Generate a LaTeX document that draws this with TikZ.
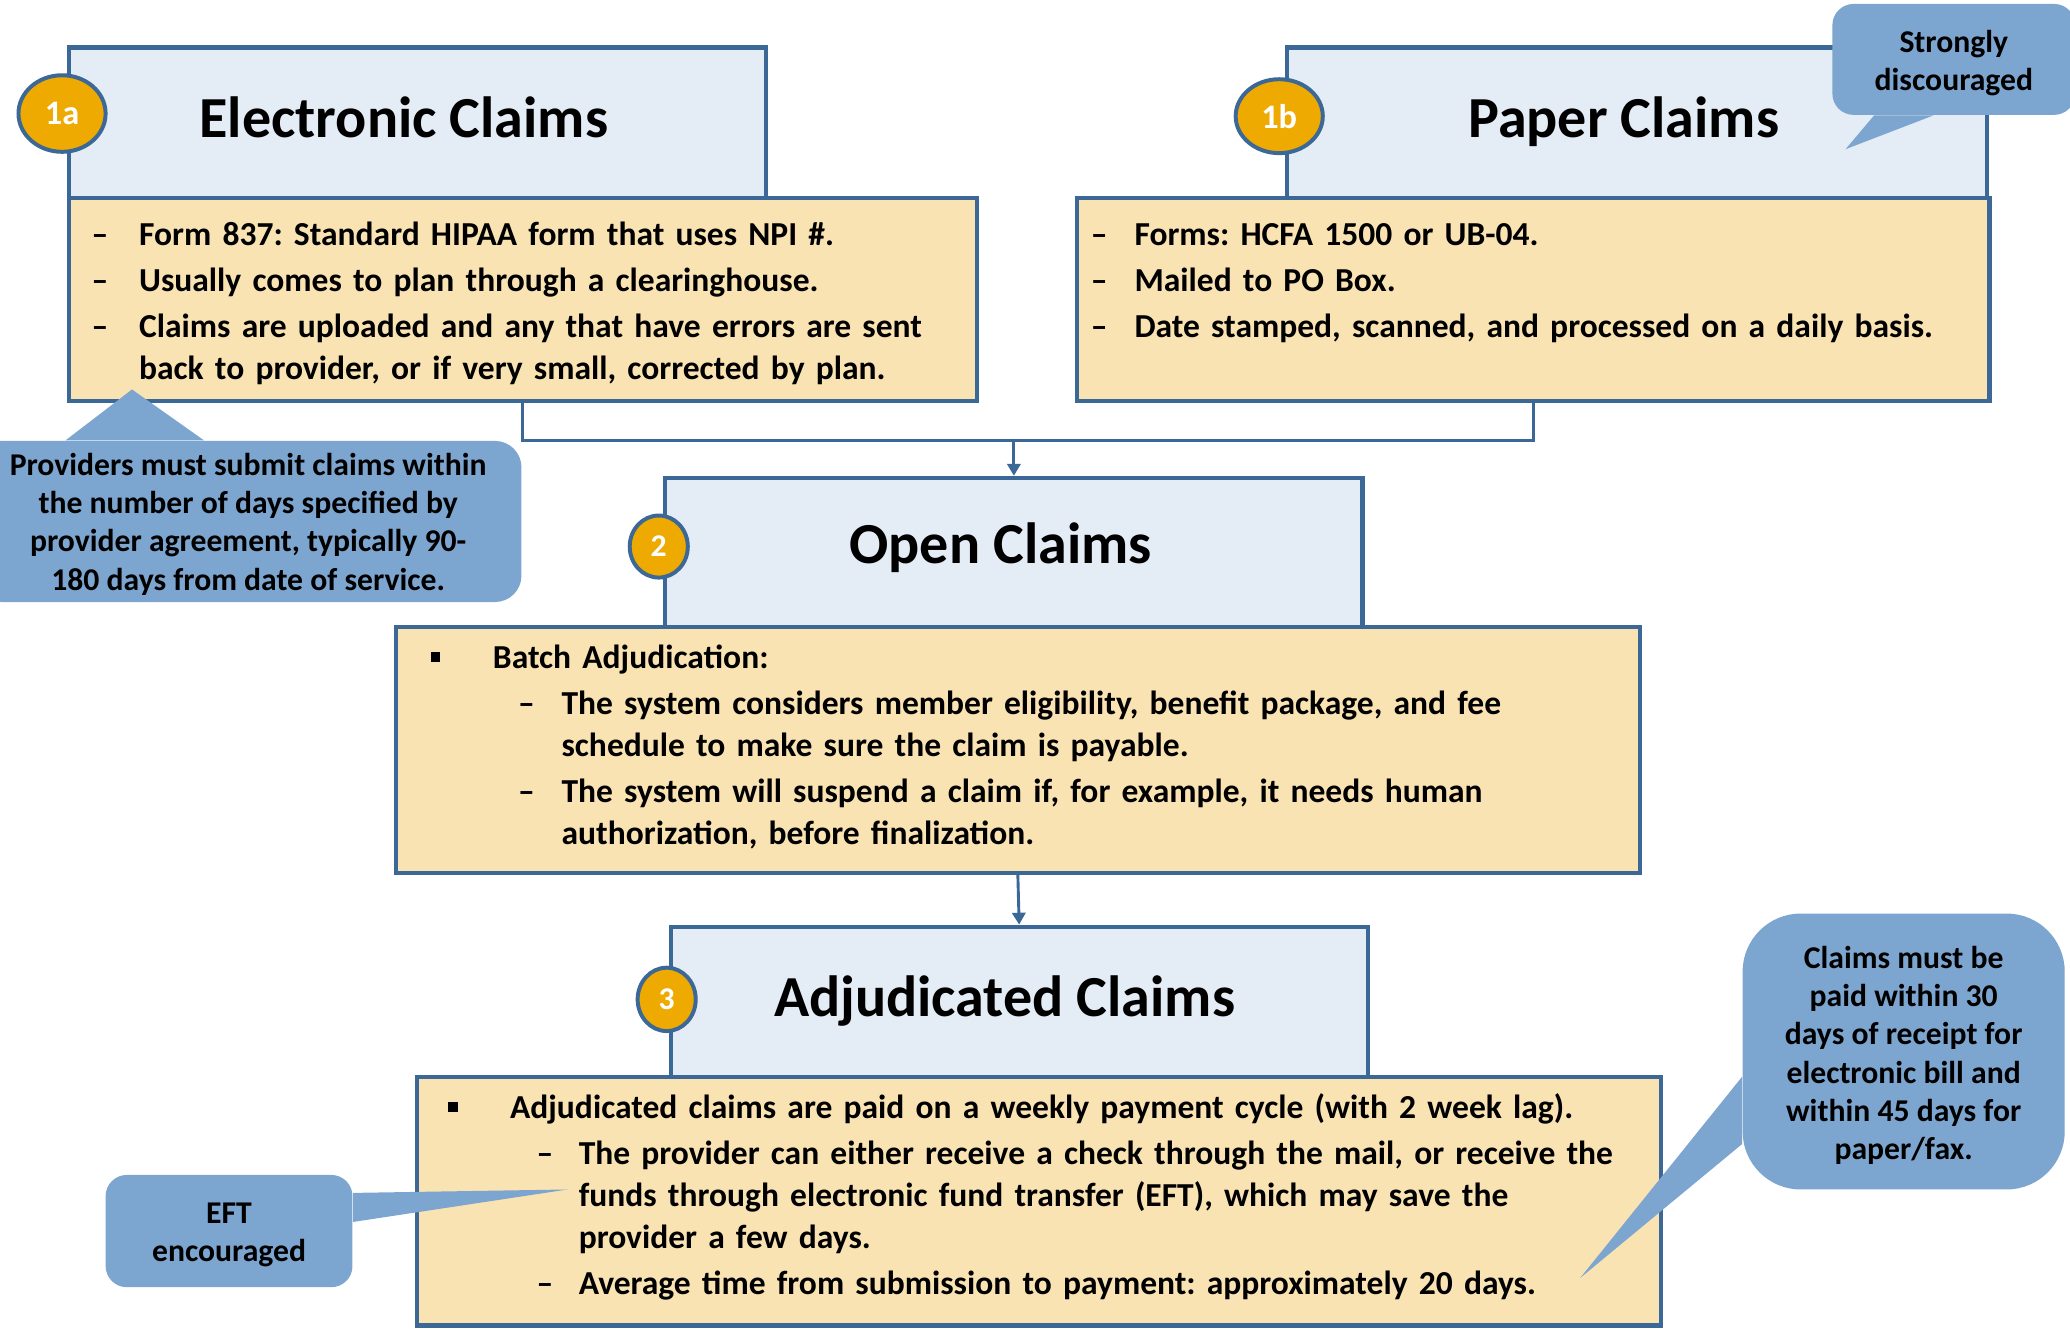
\documentclass[tikz,border=0pt]{standalone}
\usepackage{fontspec}
\setmainfont{Carlito}
\usetikzlibrary{arrows.meta,positioning,shapes.geometric,fit,calc}
\definecolor{boxline}{RGB}{59,104,150}
\definecolor{headfill}{RGB}{228,236,245}
\definecolor{bodyfill}{RGB}{250,227,178}
\definecolor{badgefill}{RGB}{238,170,0}
\definecolor{notefill}{RGB}{124,165,207}

% list used inside the yellow boxes: #1 = left margin, #2 = label width, #3 = label, #4 = space above
\newenvironment{boxitems}[4]{%
  \begin{list}{#3}{\setlength{\leftmargin}{#1}\setlength{\labelwidth}{#2}%
    \setlength{\labelsep}{0pt}\setlength{\topsep}{#4}\setlength{\partopsep}{0pt}%
    \setlength{\parsep}{0pt}\setlength{\itemsep}{1.7pt}\setlength{\itemindent}{0pt}%
    \renewcommand{\makelabel}[1]{##1\hfil}}}%
  {\end{list}}
\newcommand{\sqbullet}{\raisebox{2.4pt}{\rule{3.6pt}{3.6pt}}}

\begin{document}
\frenchspacing
\begin{tikzpicture}[x=0.5pt,y=0.5pt,yscale=-1,
    headbox/.style={rectangle,draw=boxline,fill=headfill,line width=1.6pt,inner sep=0pt},
    bodybox/.style={rectangle,draw=boxline,fill=bodyfill,line width=1.6pt,inner sep=0pt},
    title/.style={font=\fontsize{22pt}{26pt}\selectfont\bfseries,inner sep=0pt,anchor=base},
    badge/.style={ellipse,draw=boxline,fill=badgefill,line width=1.5pt,inner sep=0pt,
        text=white,font=\fontsize{13pt}{15pt}\selectfont\bfseries},
    bodytext/.style={anchor=north west,inner sep=0pt,text width=620pt,
        font=\fontsize{12.7pt}{15.8pt}\selectfont\bfseries},
    note/.style={rectangle,fill=notefill,inner sep=0pt},
    notetext/.style={inner sep=0pt,align=center,
        font=\fontsize{12pt}{14.5pt}\selectfont\bfseries},
    link/.style={draw=boxline,line width=1.1pt},
    flow/.style={link,-{Triangle[width=5pt,length=4.5pt]}}]
  \useasboundingbox (0,0) rectangle (1568,1007);
  \clip (0,0) rectangle (1568,1007);

  % step 1a and 1b
  \node[headbox,fit={(52,36) (580,150)}] (ehead) {};
  \node[bodybox,fit={(52,150) (740,304)}] (ebody) {};
  \node[headbox,fit={(975,36) (1505,150)}] (phead) {};
  \node[bodybox,fit={(816,150) (1507,304)}] (pbody) {};
  \node[badge,minimum width=33pt,minimum height=29pt] (b1a) at (47,86) {1a};
  \node[badge,minimum width=33pt,minimum height=28pt] (b1b) at (969,88) {1b};
  \node[title] (etitle) at (306,104) {Electronic Claims};
  \node[title] (ptitle) at (1230,104) {Paper Claims};

  \node[bodytext] (etext) at (69,154) {%
    \begin{boxitems}{18pt}{18pt}{--}{0pt}
    \item Form 837: Standard HIPAA form that uses NPI \#.
    \item Usually comes to plan through a clearinghouse.
    \item Claims are uploaded and any that have errors are sent\\
          back to provider, or if very small, corrected by plan.
    \end{boxitems}};
  \node[bodytext] (ptext) at (826,154) {%
    \begin{boxitems}{16.5pt}{16.5pt}{--}{0pt}
    \item Forms: HCFA 1500 or UB-04.
    \item Mailed to PO Box.
    \item Date stamped, scanned, and processed on a daily basis.
    \end{boxitems}};

  % step 2
  \node[headbox,fit={(504,362) (1032,475)}] (ohead) {};
  \node[bodybox,fit={(300,475) (1242,661)}] (obody) {};
  \node[badge,minimum width=22pt,minimum height=23.5pt,font=\fontsize{12pt}{14pt}\selectfont\bfseries] (b2) at (499,414) {2};
  \node[title] (otitle) at (758,427) {Open Claims};
  \node[bodytext] (otext) at (326,474) {%
    \begin{boxitems}{23.5pt}{23.5pt}{\sqbullet}{0pt}
    \item Batch Adjudication:
      \begin{boxitems}{26pt}{16.5pt}{--}{1.8pt}
      \item The system considers member eligibility, benefit package, and fee\\
            schedule to make sure the claim is payable.
      \item The system will suspend a claim if, for example, it needs human\\
            authorization, before finalization.
      \end{boxitems}
    \end{boxitems}};

  % step 3
  \node[headbox,fit={(508,702) (1036,816)}] (ahead) {};
  \node[bodybox,fit={(316,816) (1258,1004)}] (abody) {};
  \node[badge,minimum width=22pt,minimum height=24pt,font=\fontsize{12pt}{14pt}\selectfont\bfseries] (b3) at (505,757) {3};
  \node[title] (atitle) at (761,770) {Adjudicated Claims};
  \node[bodytext] (atext) at (339,815) {%
    \begin{boxitems}{23.5pt}{23.5pt}{\sqbullet}{0pt}
    \item Adjudicated claims are paid on a weekly payment cycle (with 2 week lag).
      \begin{boxitems}{26pt}{16pt}{--}{1.8pt}
      \item The provider can either receive a check through the mail, or receive the\\
            funds through electronic fund transfer (EFT), which may save the\\
            provider a few days.
      \item Average time from submission to payment: approximately 20 days.
      \end{boxitems}
    \end{boxitems}};

  % flow
  \draw[link] (ebody.south) -- ++(0,28) coordinate (join) -| (pbody.south);
  \coordinate (merge) at (ohead.north |- join);
  \draw[flow] (merge) -- (ohead.north);
  \draw[flow] (obody.south) -- (ahead.north);

  % callouts
  \node[note,rounded corners=8pt,fit={(1388,3) (1572,87)}] (strong) {};
  \coordinate (strongtip) at (1398,113);
  \fill[notefill] ($(strong.south west)+(32,0)$) -- (strongtip) -- ($(strong.south west)+(77,0)$) -- cycle;
  \node[notetext] (strongtext) at ($(strong.center)+(0,3)$) {Strongly\\discouraged};

  \node[note,rounded corners=10pt,fit={(-19,334) (395,456)}] (provider) {};
  \coordinate (providertip) at (100,295);
  \fill[notefill] ($(provider.north west)+(69,0)$) -- (providertip) -- ($(provider.north west)+(174,0)$) -- cycle;
  \node[notetext] (providertext) at ($(provider.center)+(0,2)$)
    {Providers must submit claims within\\the number of days specified by\\provider agreement, typically 90-\\180 days from date of service.};

  \node[note,rounded corners=8pt,fit={(80,890) (267,975)}] (eft) {};
  \coordinate (efttip) at (430,901);
  \fill[notefill] ($(eft.north east)+(0,14)$) -- (efttip) -- ($(eft.north east)+(0,36)$) -- cycle;
  \node[notetext] (efttext) at ($(eft.center)+(0,3)$) {EFT\\encouraged};

  \node[note,rounded corners=22pt,fit={(1320,692) (1564,901)}] (payment) {};
  \coordinate (paytip) at (1197,968);
  \fill[notefill] ($(payment.north west)+(0,124)$) -- (paytip) -- ($(payment.north west)+(0,175)$) -- cycle;
  \node[notetext] (paymenttext) at ($(payment.center)+(0,3)$)
    {Claims must be\\paid within 30\\days of receipt for\\electronic bill and\\within 45 days for\\paper/fax.};
\end{tikzpicture}
\end{document}
